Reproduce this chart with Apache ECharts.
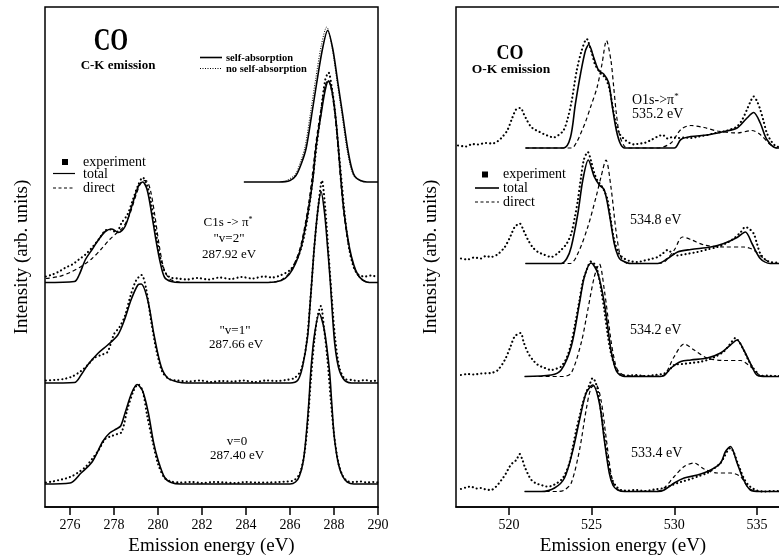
<!DOCTYPE html>
<html>
<head>
<meta charset="utf-8">
<script src="https://cdn.jsdelivr.net/npm/echarts@6/dist/echarts.min.js"></script>
<style>html,body{margin:0;padding:0;background:#fff}#c{width:779px;height:555px}</style>
</head>
<body>
<div id="c"></div>
<script>
// ---------- Tick labels ----------
const cTicks = [276, 278, 280, 282, 284, 286, 288, 290];
const oTicks = [520, 525, 530, 535];

// ---------- Spectrum baselines (arb. units, panel scale 0-100) ----------
const cOffsets = { top: 65, v2: 44.9, v1: 24.8, v0: 4.6 };
const oOffsets = { s1: 71.8, s2: 48.7, s3: 26.1, s4: 3.1 };

// ---------- C-K emission (left) : [energy eV, intensity] ----------
const cTopSelf = [[283.9,0],[285.5,0],[286.0,0.3],[286.27,1.3],[286.5,3.5],[286.73,6.7],[286.98,13.3],[287.22,20],[287.48,26.7],[287.71,30.3],[287.94,26.7],[288.17,20],[288.4,13.3],[288.62,6.7],[288.8,2.8],[288.95,1.1],[289.2,0.3],[289.5,0],[290,0]];
const cTopNoSelf = [[285.8,0.2],[286.22,1.4],[286.45,3.7],[286.68,7.0],[286.93,13.8],[287.17,20.7],[287.43,27.5],[287.67,31.0],[287.9,27.2],[288.13,20.4],[288.36,13.5],[288.58,6.8],[288.76,2.9],[288.92,1.1],[289.2,0.2]];

const cV2Total = [[274.86,0],[276.2,0.2],[276.4,1.4],[276.7,4.6],[277.0,6.6],[277.3,8.6],[277.6,10.2],[277.9,10.7],[278.2,10.0],[278.5,11.2],[278.8,15.2],[279.1,19.2],[279.3,20.1],[279.5,18.6],[279.7,14],[279.9,8.6],[280.1,4],[280.3,1],[280.6,0.2],[281,0],[285.0,0],[285.6,0.4],[285.96,1.6],[286.25,3.8],[286.5,7],[286.8,13.6],[287.03,20.3],[287.18,27],[287.41,33.6],[287.6,38.5],[287.75,40.3],[287.9,38.5],[288.06,33.6],[288.2,27],[288.32,20.3],[288.47,13.6],[288.7,7],[288.9,3.5],[289.08,1.6],[289.3,0.5],[289.6,0],[290,0]];
const cV2Direct = [[274.9,0.8],[275.5,1.2],[276.0,2.0],[276.5,3.2],[277.0,4.8],[277.4,6.6],[277.8,8.6],[278.1,9.8],[278.4,11.0],[278.7,13.5],[279.0,17.5],[279.25,20.2],[279.45,20.4],[279.65,18.5],[279.85,13.5],[280.05,7.5],[280.25,3],[280.5,0.8],[280.8,0.2],[281.2,0],[285.0,0],[285.6,0.5],[285.96,1.9],[286.25,4.3],[286.5,7.6],[286.8,14.5],[287.0,21],[287.18,28],[287.4,34.5],[287.58,39],[287.72,40.5],[287.88,38.5],[288.04,33.6],[288.18,27],[288.3,20.3],[288.45,13.6],[288.68,7],[288.88,3.5],[289.06,1.6],[289.3,0.5],[289.6,0],[290,0]];
const cV2Exp = [[274.9,1.2],[275.2,1.6],[275.5,2.2],[275.8,3.0],[276.1,3.6],[276.4,4.6],[276.7,5.6],[277.0,7.0],[277.3,8.6],[277.6,10.4],[277.85,10.6],[278.1,10.0],[278.35,12.0],[278.6,13.5],[278.85,16.5],[279.1,19.5],[279.3,21.0],[279.5,19.5],[279.7,15.5],[279.9,10],[280.1,5],[280.3,2.2],[280.55,1.0],[280.9,0.8],[281.3,0.6],[281.8,0.9],[282.3,0.6],[282.8,1.0],[283.3,0.7],[283.8,1.1],[284.3,0.8],[284.8,1.2],[285.2,1.0],[285.6,1.5],[286.0,2.5],[286.3,4.5],[286.55,7.5],[286.8,13],[287.0,19.5],[287.2,27],[287.4,34],[287.6,40.5],[287.75,42],[287.9,39],[288.05,34],[288.2,27],[288.35,20],[288.5,13],[288.7,6.5],[288.9,3],[289.1,1.6],[289.4,1.2],[289.7,1.4],[290,1.0]];

const cV1Total = [[274.86,0],[276.2,0.1],[276.5,1.6],[276.8,3.6],[277.26,5.9],[277.71,7.6],[278.17,9.6],[278.47,12.6],[278.77,16.6],[279.08,19.6],[279.23,19.8],[279.53,16.6],[279.83,9.3],[280.14,3.3],[280.44,1],[280.9,0.2],[281.3,0],[286.0,0],[286.36,0.6],[286.57,3.3],[286.8,9.3],[286.9,15],[287.0,21],[287.1,27],[287.25,34],[287.41,38.3],[287.57,34],[287.71,27],[287.83,20.3],[287.93,13.6],[288.03,8],[288.14,4.5],[288.26,2.3],[288.4,1],[288.55,0.3],[288.8,0],[290,0]];
const cV1Exp = [[274.9,0.5],[275.3,0.6],[275.7,0.8],[276.1,1.3],[276.5,2.4],[276.8,3.6],[277.1,5.0],[277.4,5.6],[277.7,6.2],[278.0,9.8],[278.25,11.2],[278.5,13.5],[278.75,17.5],[279.0,20.5],[279.25,21.6],[279.45,19],[279.7,12],[279.95,6],[280.2,2.2],[280.5,0.8],[280.9,0.5],[281.4,0.3],[281.9,0.5],[282.4,0.2],[282.9,0.4],[283.4,0.3],[283.9,0.5],[284.4,0.2],[284.9,0.5],[285.4,0.4],[285.8,0.6],[286.2,1.0],[286.5,2.6],[286.75,8],[286.95,18],[287.1,27],[287.3,36],[287.45,40.5],[287.6,35],[287.75,26],[287.9,17],[288.05,9],[288.25,3],[288.5,0.8],[288.8,0.6],[289.1,0.4],[289.4,0.6],[289.7,0.4],[290,0.5]];

const cV0Total = [[274.86,0],[276.0,0.2],[276.5,2.2],[277.0,4.4],[277.5,8.6],[277.8,10.2],[278.1,11.0],[278.3,11.6],[278.5,14.2],[278.8,18.2],[279.05,19.9],[279.3,18.6],[279.55,14.4],[279.8,8.2],[280.0,4.8],[280.3,1.3],[280.6,0.3],[281.0,0],[286.0,0],[286.25,0.4],[286.42,1.5],[286.6,4.5],[286.73,9.5],[286.85,16],[286.95,22.8],[287.1,29.5],[287.33,34.1],[287.55,31],[287.79,22.8],[287.9,16],[288.01,9.5],[288.2,4],[288.4,1.5],[288.6,0.4],[288.9,0],[290,0]];
const cV0Exp = [[274.9,0.3],[275.2,0.5],[275.5,0.8],[275.8,1.1],[276.1,1.6],[276.4,2.4],[276.7,3.4],[277.0,5.0],[277.3,6.8],[277.6,9.0],[277.9,9.6],[278.15,10.0],[278.35,10.4],[278.6,14.8],[278.9,18.8],[279.1,19.9],[279.3,18.6],[279.5,13.8],[279.75,8.6],[280.0,4.0],[280.3,1.2],[280.6,0.5],[281.0,0.3],[281.5,0.4],[282.0,0.2],[282.5,0.4],[283.0,0.3],[283.5,0.2],[284.0,0.4],[284.5,0.3],[285.0,0.3],[285.5,0.4],[285.9,0.5],[286.2,0.8],[286.45,2.2],[286.65,6],[286.8,12],[286.95,21],[287.1,28.5],[287.25,33.5],[287.4,35.6],[287.55,31],[287.7,25],[287.85,17],[288.0,10],[288.2,4.2],[288.4,1.6],[288.6,0.6],[288.9,0.4],[289.2,0.5],[289.5,0.3],[289.8,0.4],[290,0.3]];

// ---------- O-K emission (right) ----------
const oS1Total = [[521.0,0],[523.3,0],[523.72,2.1],[524.02,8.8],[524.33,14.8],[524.63,19.5],[524.83,20.7],[525.13,18.1],[525.43,15.5],[525.73,14.8],[526.03,13.1],[526.23,8.8],[526.5,3.5],[526.75,0.8],[527.0,0],[530.0,0],[530.4,1.7],[531.0,2.3],[532.0,2.6],[533.0,3.3],[533.8,4.0],[534.4,6.0],[534.8,7.1],[535.2,5.0],[535.6,1.7],[536.2,0],[537,0]];
const oS1Direct = [[521.0,0],[523.8,0],[524.1,1.2],[524.33,2.8],[524.63,5.2],[524.93,8.1],[525.33,12.1],[525.63,16.8],[525.9,21.5],[526.17,17.5],[526.34,12.1],[526.5,6.8],[526.7,2.5],[527.0,0.3],[527.3,0],[529.0,0],[529.8,1.0],[530.4,3.7],[531.0,4.5],[531.8,4.1],[532.6,3.4],[533.8,3.0],[534.7,3.5],[535.2,2.7],[535.8,0.7],[536.2,0],[537,0]];
const oS1Exp = [[516.92,0.5],[517.4,0.3],[517.8,0.8],[518.1,0.7],[518.6,1.0],[519.0,0.9],[519.3,1.3],[519.6,2.2],[519.9,3.5],[520.2,6.0],[520.45,7.8],[520.7,8.0],[520.9,6.8],[521.1,5.5],[521.3,4.4],[521.5,3.8],[521.8,3.3],[522.1,2.8],[522.4,2.4],[522.7,2.1],[523.0,2.6],[523.3,3.5],[523.55,5.8],[523.8,9.5],[524.1,15.5],[524.4,19.5],[524.7,21.8],[525.0,19.1],[525.2,16.8],[525.43,15.5],[525.63,14.6],[525.83,14.1],[526.1,11.5],[526.43,5.5],[526.7,2.8],[527.0,1.7],[527.3,1.0],[527.6,0.7],[527.9,0.9],[528.2,1.0],[528.6,1.6],[529.0,2.3],[529.3,2.6],[529.6,1.9],[529.9,2.2],[530.2,2.0],[530.6,2.1],[531.0,2.0],[531.5,2.3],[532.0,2.6],[532.5,3.0],[533.0,3.3],[533.4,3.7],[533.8,4.3],[534.1,5.6],[534.4,7.7],[534.6,9.2],[534.8,10.3],[535.0,9.4],[535.2,7.7],[535.4,5.4],[535.6,3.0],[535.9,1.2],[536.2,0.3],[536.6,0.2],[537,0.2]];

const oS2Total = [[521.0,0],[523.16,0],[523.5,1.0],[523.77,3.3],[524.17,10],[524.47,16.7],[524.8,20.7],[525.17,17.3],[525.47,15.7],[525.77,14.7],[526.07,10],[526.37,4],[526.6,1.5],[526.78,0.7],[527.4,0],[529.0,0],[529.6,1.0],[530.2,2.3],[531.0,2.8],[532.2,3.3],[533.0,4.0],[533.8,5.2],[534.3,6.3],[534.7,4.0],[535.2,1.0],[535.8,0],[537,0]];
const oS2Direct = [[521.0,0],[523.7,0],[524.17,2],[524.77,7.3],[525.27,13.3],[525.57,17.3],[525.87,20.7],[526.17,15.3],[526.47,6.7],[526.7,2.0],[526.88,0.7],[527.2,0],[529.0,0],[529.4,0.3],[530.0,2.7],[530.5,5.3],[531.0,4.8],[531.8,3.7],[533.0,3.3],[534.2,3.3],[534.8,2.7],[535.4,1.0],[536.0,0],[537,0]];
const oS2Exp = [[517.1,1.0],[517.5,0.8],[517.9,1.2],[518.3,1.0],[518.6,1.5],[518.9,1.3],[519.3,1.8],[519.75,3.3],[520.1,5.5],[520.35,7.3],[520.65,8.0],[520.9,6.5],[521.16,4.7],[521.45,3.2],[521.76,2.3],[522.1,1.8],[522.56,1.3],[522.9,1.9],[523.16,2.7],[523.5,4.0],[523.77,6.0],[524.0,9.5],[524.17,12.7],[524.35,17],[524.53,20.7],[524.77,22.3],[524.97,20.5],[525.17,18],[525.37,16.5],[525.57,15.7],[525.77,14.5],[525.97,12.7],[526.17,8.5],[526.37,4.7],[526.65,2.0],[526.97,1.0],[527.3,0.5],[527.78,0.3],[528.2,0.6],[528.6,0.9],[529.0,1.3],[529.3,2.0],[529.6,2.7],[529.9,2.0],[530.2,1.6],[530.4,1.7],[530.9,2.0],[531.4,2.3],[532.0,2.8],[532.6,3.3],[533.1,4.0],[533.6,5.0],[534.0,6.2],[534.3,7.3],[534.55,6.9],[534.8,6.0],[535.0,4.0],[535.2,2.0],[535.5,0.8],[535.8,0.3],[536.3,0.2],[537,0.2]];

const oS3Total = [[520.95,0],[522.56,0.3],[523.16,1.3],[523.77,6],[524.27,14.7],[524.57,20],[524.97,22.7],[525.37,20.7],[525.77,14.7],[526.17,5.3],[526.4,2.0],[526.58,0.7],[527.0,0],[529.0,0],[529.39,0.2],[529.8,1.7],[530.4,3.0],[531.0,3.3],[532.0,3.7],[532.8,4.7],[533.4,6.3],[533.8,7.3],[534.2,5.3],[534.7,2.0],[535.0,0.3],[535.6,0],[537,0]];
const oS3Direct = [[520.95,0],[523.3,0],[523.77,0.7],[524.37,6.7],[524.77,13.3],[525.17,20],[525.47,22.5],[525.77,17.3],[526.17,7.3],[526.4,3.0],[526.58,1.3],[527.0,0.2],[529.0,0.1],[529.39,0.3],[530.0,4.0],[530.6,6.5],[531.2,5.3],[532.0,3.7],[533.0,3.2],[534.0,3.2],[534.6,2.0],[535.2,0.2],[535.6,0],[537,0]];
const oS3Exp = [[517.1,0.3],[517.5,0.5],[517.9,0.4],[518.3,0.6],[518.9,0.7],[519.3,1.2],[519.75,3.3],[520.1,6.0],[520.35,8.0],[520.7,8.7],[520.9,6.8],[521.16,4.7],[521.45,3.3],[521.76,2.3],[522.1,1.8],[522.56,1.3],[522.9,1.6],[523.16,2.0],[523.5,3.8],[523.77,6.7],[524.0,10.5],[524.27,15.3],[524.47,19],[524.67,21],[524.97,23],[525.17,22.5],[525.37,21],[525.57,17.5],[525.77,13.3],[525.97,8.5],[526.17,4.7],[526.45,1.8],[526.78,0.3],[527.2,0.2],[527.7,0.3],[528.2,0.1],[528.8,0.3],[529.39,0.6],[529.7,1.3],[530.0,2.3],[530.5,2.5],[531.0,2.7],[531.5,2.9],[532.0,3.3],[532.5,4.0],[533.0,5.0],[533.4,6.6],[533.7,7.7],[533.95,6.8],[534.2,5.3],[534.45,3.5],[534.7,2.0],[535.0,0.8],[535.2,0.1],[535.6,0.2],[536.2,0.1],[537,0.2]];

const oS4Total = [[520.95,0],[521.96,0],[522.76,0.7],[523.36,2.7],[523.87,8.3],[524.27,14.3],[524.67,19.7],[525.07,21.3],[525.47,17.7],[525.77,10.3],[526.07,3.7],[526.3,1.2],[526.58,0.3],[527.0,0],[529.0,0],[529.39,0.3],[530.0,1.7],[530.6,2.7],[531.4,3.3],[532.2,4.3],[532.8,5.7],[533.1,8.0],[533.4,9.0],[533.8,5.7],[534.2,2.3],[534.6,0.3],[535.2,0],[537,0]];
const oS4Direct = [[520.95,0],[523.0,0],[523.36,0.3],[523.77,1.7],[524.27,8.3],[524.67,16.3],[524.97,20.7],[525.27,21.3],[525.57,18.3],[525.87,11],[526.17,3.7],[526.4,1.0],[526.68,0.2],[527.0,0],[529.0,0.1],[529.39,0.7],[530.0,3.0],[530.6,5.0],[531.2,5.7],[531.8,4.5],[532.6,3.7],[533.4,3.7],[534.0,3.0],[534.5,0.7],[535.0,0],[537,0]];
const oS4Exp = [[517.1,0.5],[517.4,0.8],[517.7,1.0],[518.0,0.6],[518.3,0.7],[518.6,0.4],[518.9,0.3],[519.2,0.9],[519.55,2.3],[519.8,3.5],[520.05,5.0],[520.25,5.8],[520.45,6.3],[520.65,7.5],[520.8,6.5],[520.95,5.0],[521.15,3.5],[521.36,2.3],[521.65,1.6],[521.96,1.3],[522.26,1.0],[522.56,1.1],[522.86,1.6],[523.16,2.3],[523.4,3.5],[523.66,5.7],[523.87,9],[524.07,12.3],[524.27,15],[524.47,17.7],[524.67,19.8],[524.87,21.3],[525.07,22.7],[525.22,22],[525.37,20.3],[525.57,16],[525.77,11],[525.97,6.5],[526.17,3],[526.45,1.2],[526.78,0.3],[527.2,0.2],[527.7,0.3],[528.2,0.1],[528.8,0.4],[529.39,0.7],[529.8,1.2],[530.2,1.7],[530.6,2.1],[531.0,2.5],[531.5,3.1],[532.0,3.7],[532.4,4.6],[532.8,5.7],[533.0,6.8],[533.2,8.0],[533.4,8.7],[533.6,7.8],[533.8,6.0],[534.0,4.3],[534.2,2.7],[534.45,1.4],[534.7,0.7],[535.0,0.2],[535.4,0],[536,0.1],[537,0.1]];

// ---------- styles ----------
const FONT = 'Liberation Serif';
const TOTAL = { color: '#000', width: 1.6 };
const DIRECT = { color: '#000', width: 1.2, type: [4, 3] };
const EXP = { color: '#000', width: 2.1, type: [0.1, 4], cap: 'round' };
const NOSELF = { color: '#000', width: 1, type: [1, 1.5] };

function mk(data, off, gi, style, z) {
  return {
    type: 'line', xAxisIndex: gi, yAxisIndex: gi, silent: true,
    data: data.map(p => [p[0], p[1] + off]),
    showSymbol: false, symbol: 'none', smooth: 0.3,
    lineStyle: style, z: z || 2, animation: false
  };
}

const series = [
  mk(cTopSelf, cOffsets.top, 0, TOTAL, 3),
  mk(cTopNoSelf, cOffsets.top, 0, NOSELF),
  mk(cV2Total, cOffsets.v2, 0, TOTAL, 3),
  mk(cV2Direct, cOffsets.v2, 0, DIRECT),
  mk(cV2Exp, cOffsets.v2, 0, EXP),
  mk(cV1Total, cOffsets.v1, 0, TOTAL, 3),
  mk(cV1Exp, cOffsets.v1, 0, EXP),
  mk(cV0Total, cOffsets.v0, 0, TOTAL, 3),
  mk(cV0Exp, cOffsets.v0, 0, EXP),
  mk(oS1Total, oOffsets.s1, 1, TOTAL, 3),
  mk(oS1Direct, oOffsets.s1, 1, DIRECT),
  mk(oS1Exp, oOffsets.s1, 1, EXP),
  mk(oS2Total, oOffsets.s2, 1, TOTAL, 3),
  mk(oS2Direct, oOffsets.s2, 1, DIRECT),
  mk(oS2Exp, oOffsets.s2, 1, EXP),
  mk(oS3Total, oOffsets.s3, 1, TOTAL, 3),
  mk(oS3Direct, oOffsets.s3, 1, DIRECT),
  mk(oS3Exp, oOffsets.s3, 1, EXP),
  mk(oS4Total, oOffsets.s4, 1, TOTAL, 3),
  mk(oS4Direct, oOffsets.s4, 1, DIRECT),
  mk(oS4Exp, oOffsets.s4, 1, EXP)
];

function xAx(gi, min, max, ticks) {
  return {
    type: 'value', gridIndex: gi, min: min, max: max,
    axisLine: { show: true, onZero: false, lineStyle: { color: '#000', width: 1.5 } },
    axisTick: { show: true, inside: false, length: 8, customValues: ticks, lineStyle: { color: '#000', width: 1.5 } },
    axisLabel: { customValues: ticks, fontSize: 14, fontFamily: FONT, color: '#000', margin: 11 },
    splitLine: { show: false },
    name: 'Emission energy (eV)', nameLocation: 'middle', nameGap: 21,
    nameTextStyle: { fontSize: 19, fontFamily: FONT, color: '#000' }
  };
}
function yAx(gi) {
  return { type: 'value', gridIndex: gi, min: 0, max: 100, show: false };
}

function txt(text, x, y, size, o) {
  o = o || {};
  return {
    type: 'text', x: x, y: y, rotation: o.rot || 0, scaleY: o.sy || 1, z: 10, silent: true,
    style: {
      text: text, fontSize: size, fontFamily: FONT, fill: '#000',
      fontWeight: o.bold ? 'bold' : 'normal',
      align: o.align || 'center', verticalAlign: 'middle', rich: o.rich
    }
  };
}
function ln(x1, y1, x2, y2, dash, w) {
  return { type: 'line', z: 10, silent: true, shape: { x1: x1, y1: y1, x2: x2, y2: y2 },
    style: { stroke: '#000', lineWidth: w || 1.5, lineDash: dash || null } };
}
function sq(cx, cy, s) {
  return { type: 'rect', z: 10, silent: true, shape: { x: cx - s / 2, y: cy - s / 2, width: s, height: s }, style: { fill: '#000' } };
}
const piRich = (size) => ({ n: { fontSize: size, fontFamily: FONT }, s: { fontSize: Math.round(size * 0.65), fontFamily: FONT, padding: [0, 0, 7, 0] } });

const graphic = [
  // left panel
  txt('CO', 111, 42, 23, { bold: true, sy: 1.35 }),
  txt('C-K emission', 118, 66, 13, { bold: true }),
  ln(200, 57.5, 222, 57.5, null, 1.6), txt('self-absorption', 226, 58, 10.5, { bold: true, align: 'left' }),
  ln(200, 68.5, 222, 68.5, [1, 1.5], 1), txt('no self-absorption', 226, 69, 10.5, { bold: true, align: 'left' }),
  sq(65, 162, 6), txt('experiment', 83, 162, 14, { align: 'left' }),
  ln(53, 173.5, 75, 173.5, null, 1.2), txt('total', 83, 174, 14, { align: 'left' }),
  ln(53, 188, 75, 188, [3, 2.5], 1.2), txt('direct', 83, 188, 14, { align: 'left' }),
  txt('{n|C1s -> π}{s|*}', 228, 223, 13, { rich: piRich(13) }),
  txt('"v=2"', 229, 239, 13),
  txt('287.92 eV', 229, 255, 13),
  txt('"v=1"', 235, 331, 13),
  txt('287.66 eV', 236, 345, 13),
  txt('v=0', 237, 442, 13),
  txt('287.40 eV', 237, 456, 13),
  txt('Intensity (arb. units)', 22, 257, 19, { rot: Math.PI / 2 }),
  // right panel
  txt('CO', 510, 53, 18, { bold: true, sy: 1.2 }),
  txt('O-K emission', 511, 70, 13.5, { bold: true }),
  sq(485, 174.5, 6), txt('experiment', 503, 174, 14, { align: 'left' }),
  ln(475, 188, 499, 188, null, 1.6), txt('total', 503, 188, 14, { align: 'left' }),
  ln(475, 202, 499, 202, [3, 2.5], 1.2), txt('direct', 503, 202, 14, { align: 'left' }),
  txt('{n|O1s->π}{s|*}', 632, 100, 14, { align: 'left', rich: piRich(14) }),
  txt('535.2 eV', 632, 114, 14, { align: 'left' }),
  txt('534.8 eV', 630, 220, 14, { align: 'left' }),
  txt('534.2 eV', 630, 330, 14, { align: 'left' }),
  txt('533.4 eV', 631, 453, 14, { align: 'left' }),
  txt('Intensity (arb. units)', 431, 257, 19, { rot: Math.PI / 2 })
];

const chart = echarts.init(document.getElementById('c'), null, { renderer: 'canvas' });
chart.setOption({
  animation: false,
  backgroundColor: '#fff',
  grid: [
    { left: 45, right: 401, top: 7, bottom: 48, show: true, borderColor: '#000', borderWidth: 1.5, backgroundColor: 'transparent', outerBoundsMode: 'none', containLabel: false },
    { left: 456, right: -11, top: 7, bottom: 48, show: true, borderColor: '#000', borderWidth: 1.5, backgroundColor: 'transparent', outerBoundsMode: 'none', containLabel: false }
  ],
  xAxis: [xAx(0, 274.86, 290, cTicks), xAx(1, 516.8, 537, oTicks)],
  yAxis: [yAx(0), yAx(1)],
  series: series,
  graphic: graphic
});
</script>
</body>
</html>
